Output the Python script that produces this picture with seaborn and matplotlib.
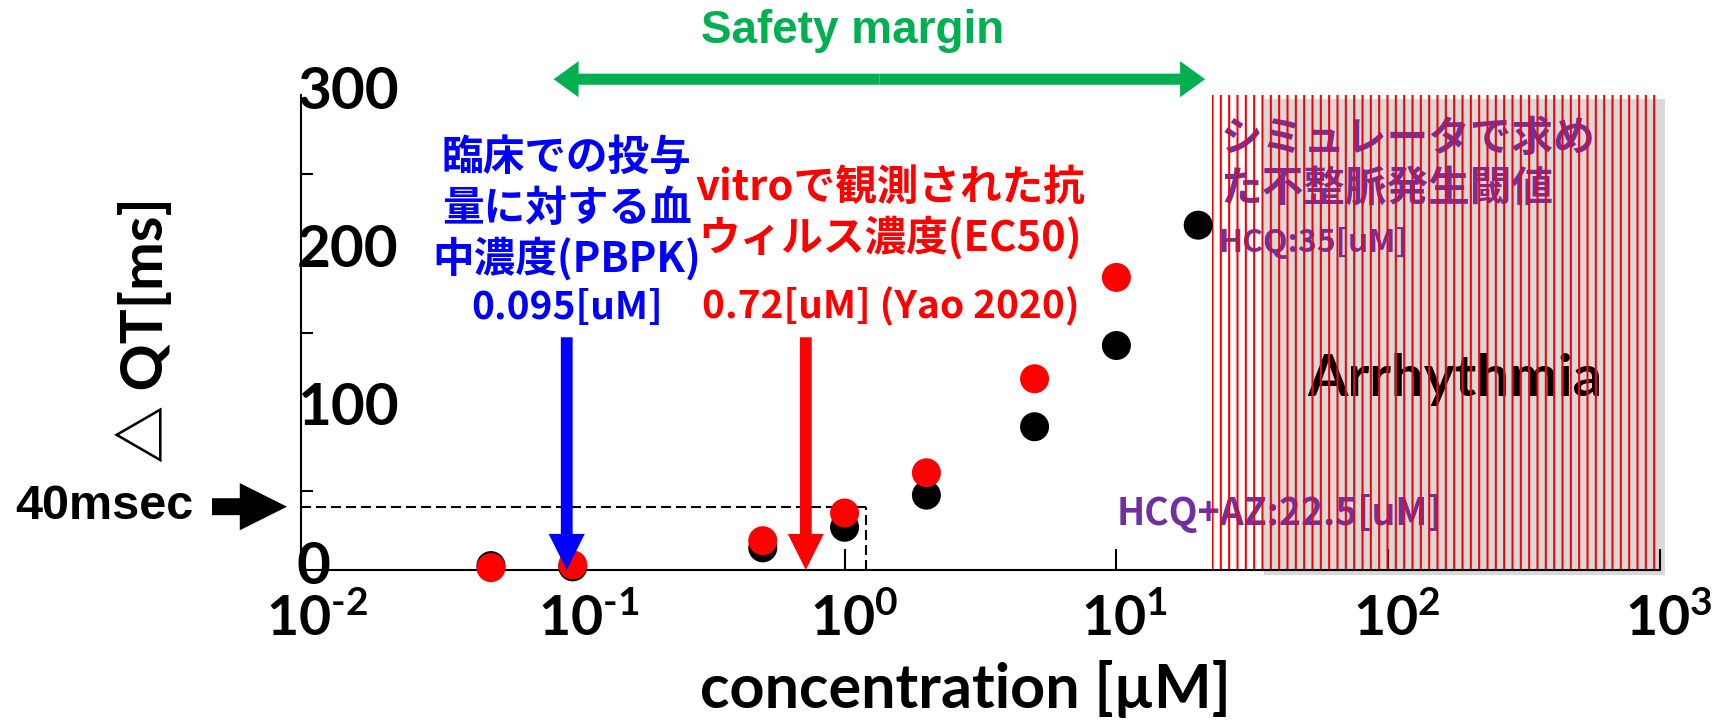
import matplotlib
matplotlib.use("Agg")
import matplotlib.pyplot as plt
import matplotlib.transforms as mtransforms
from matplotlib.ticker import FixedLocator, NullLocator
import pandas as pd
import seaborn as sns

# ---------------- data ----------------
conc_black = [0.05, 0.1, 0.5, 1, 2, 5, 10, 20]
dqt_black = [2.8, 2.0, 14.0, 27.0, 47.3, 90.5, 141.8, 217.8]
conc_red = [0.05, 0.1, 0.5, 1, 2, 5, 10]
dqt_red = [1.5, 3.2, 18.5, 36.0, 61.4, 120.8, 184.8]

x_ticks = [0.01, 0.1, 1, 10, 100, 1000]
x_tick_labels = [r"$10^{\text{-}2}$", r"$10^{\text{-}1}$", r"$10^{0}$",
                 r"$10^{1}$", r"$10^{2}$", r"$10^{3}$"]
y_ticks = [0, 100, 200, 300]
y_tick_labels = ["0", "100", "200", "300"]
y_minor = [50, 150, 250]

pbpk_conc = 0.095      # clinical blood concentration
ec50_conc = 0.72       # in vitro EC50
hcq_az_thr = 22.5      # arrhythmia threshold HCQ+AZ
hcq_thr = 35           # arrhythmia threshold HCQ
qt_limit = 40          # 40 msec
qt_box_conc = 1.2      # dashed box right edge

blue_lines = ["臨床での投与", "量に対する血", "中濃度(PBPK)", "0.095[uM]"]
red_lines = ["vitroで観測された抗", "ウィルス濃度(EC50)", "0.72[uM] (Yao 2020)"]
purple_lines = ["シミュレータで求め", "た不整脈発生閾値"]
hcq_label = "HCQ:35[uM]"
hcq_az_label = "HCQ+AZ:22.5[uM]"

# ---------------- style ----------------
sns.set_theme(style="white")
plt.rcParams["font.family"] = ["Lato", "Noto Sans CJK JP", "DejaVu Sans"]
plt.rcParams["font.weight"] = "bold"
plt.rcParams["text.color"] = "black"
plt.rcParams["axes.labelcolor"] = "black"
plt.rcParams["xtick.color"] = "black"
plt.rcParams["ytick.color"] = "black"
plt.rcParams["xtick.labelcolor"] = "black"
plt.rcParams["ytick.labelcolor"] = "black"
plt.rcParams["mathtext.fontset"] = "custom"
plt.rcParams["mathtext.rm"] = "Lato:bold"
plt.rcParams["mathtext.it"] = "Lato:bold"
plt.rcParams["mathtext.bf"] = "Lato:bold"
plt.rcParams["mathtext.default"] = "rm"
plt.rcParams["hatch.linewidth"] = 1.5
plt.rcParams["hatch.color"] = "red"

CJK = ["Noto Sans CJK JP", "DejaVu Sans"]
BLUE = "#0000FF"
RED = "#FF0000"
PURPLE = "#7030A0"
GREEN = "#00B050"

fig = plt.figure(figsize=(17.14, 7.21), dpi=100)
ax = fig.add_axes([0.1756, 0.2094, 0.7929, 0.6588])

df = pd.DataFrame({
    "conc": conc_black + conc_red,
    "dqt": dqt_black + dqt_red,
    "series": ["black"] * len(conc_black) + ["red"] * len(conc_red),
})
sns.scatterplot(data=df, x="conc", y="dqt", hue="series",
                palette={"black": "black", "red": RED},
                s=436, linewidth=0, legend=False, zorder=3, clip_on=False, ax=ax)

ax.set_xscale("log")
ax.set_xlim(0.01, 1000)
ax.set_ylim(0, 300)

# arrhythmia region: gray shadow + red vertical hatch
ax.axvspan(hcq_thr, 1043, ymin=-0.01, ymax=0.992, facecolor="#D9D9D9",
           edgecolor="none", lw=0, zorder=0.5, clip_on=False)
ax.axvspan(hcq_az_thr, 1000, ymin=0, ymax=1, facecolor="none",
           edgecolor=RED, hatch="||", lw=0, zorder=2)

# dashed 40 ms box
ax.plot([0.01, qt_box_conc], [qt_limit, qt_limit], color="black", lw=1.5,
        ls=(0, (4.8, 2.4)), zorder=2.5)
ax.plot([qt_box_conc, qt_box_conc], [0, qt_limit], color="black", lw=1.5,
        ls=(0, (4.8, 2.4)), zorder=2.5)

# spines & ticks
for s in ["top", "right"]:
    ax.spines[s].set_visible(False)
for s in ["left", "bottom"]:
    ax.spines[s].set_linewidth(1.5)
    ax.spines[s].set_color("black")
    ax.spines[s].set_zorder(2.5)

ax.xaxis.set_major_locator(FixedLocator(x_ticks))
ax.set_xticklabels(x_tick_labels)
ax.xaxis.set_minor_locator(NullLocator())
ax.tick_params(axis="x", which="major", direction="in", length=15, width=1.5,
               pad=16, labelsize=40, color="black", labelcolor="black", bottom=True)

ax.yaxis.set_major_locator(FixedLocator(y_ticks))
ax.set_yticklabels(y_tick_labels)
ax.yaxis.set_minor_locator(FixedLocator(y_minor))
ax.tick_params(axis="y", which="major", direction="in", length=0, pad=3,
               labelsize=42, left=True, labelcolor="black")
ax.tick_params(axis="y", which="minor", direction="in", length=8.6, width=1.5,
               left=True, color="black")

shift_x = mtransforms.ScaledTranslation(-35 / 100, 0, fig.dpi_scale_trans)
shift_y = mtransforms.ScaledTranslation(0, 8 / 100, fig.dpi_scale_trans)
for t in ax.get_xticklabels():
    t.set_fontweight("bold")
    t.set_ha("left")
    t.set_transform(t.get_transform() + shift_x)
for t in ax.get_yticklabels():
    t.set_ha("left")
    t.set_fontweight("bold")
    t.set_transform(t.get_transform() + shift_y)

ax.set_xlabel("concentration [µM]", fontsize=44, fontweight="bold")
ax.xaxis.set_label_coords(0.489, -0.19)
ax.set_ylabel("△ QT[ms]", fontsize=42, fontweight="bold", va="center")
ax.yaxis.set_label_coords(-0.1148, 0.505)

# blue: clinical concentration
blue_y = [260.5, 228.2, 196.8, 165.8]
blue_size = [30, 30, 30, 28]
for line, yy, fs in zip(blue_lines, blue_y, blue_size):
    ax.text(pbpk_conc, yy, line, color=BLUE, fontsize=fs, fontweight="bold",
            family=CJK, ha="center", va="center", zorder=5)
ax.annotate("", xy=(pbpk_conc, 0), xytext=(pbpk_conc, 147),
            arrowprops=dict(arrowstyle="simple,head_length=2.6,head_width=2.6,tail_width=0.85",
                            color=BLUE, lw=0, shrinkA=0, shrinkB=0, mutation_scale=10),
            zorder=5, annotation_clip=False)

# red: in vitro EC50
red_y = [241.2, 209.6, 166.7]
red_size = [30, 30, 28]
for line, yy, fs in zip(red_lines, red_y, red_size):
    ax.text(1.476, yy, line, color=RED, fontsize=fs, fontweight="bold",
            family=CJK, ha="center", va="center", zorder=5)
ax.annotate("", xy=(ec50_conc, 0), xytext=(ec50_conc, 147),
            arrowprops=dict(arrowstyle="simple,head_length=2.6,head_width=2.6,tail_width=0.85",
                            color=RED, lw=0, shrinkA=0, shrinkB=0, mutation_scale=10),
            zorder=5, annotation_clip=False)

# purple: simulator thresholds (under the hatch)
purple_y = [272.0, 241.0]
for line, yy in zip(purple_lines, purple_y):
    ax.text(24.1, yy, line, color=PURPLE, fontsize=30, fontweight="bold",
            family=CJK, ha="left", va="center", zorder=1)
ax.text(23.7, 206.4, hcq_label, color=PURPLE, fontsize=23, fontweight="bold",
        family=CJK, ha="left", va="center", zorder=1)
ax.text(10.0, 35.4, hcq_az_label, color=PURPLE, fontsize=27, fontweight="bold",
        family=CJK, ha="left", va="center", zorder=1)
ax.text(176, 120.6, "Arrhythmia", color="black", fontsize=42, fontweight="bold",
        ha="center", va="center", zorder=1)

# safety margin
ax.text(1.07, 340.3, "Safety margin", color=GREEN, fontsize=33, fontweight="bold",
        family=["Liberation Sans"], ha="center", va="center")
mid = (0.085 * 21.2) ** 0.5
for end in (0.085, 21.2):
    ax.annotate("", xy=(end, 310), xytext=(mid, 310),
                arrowprops=dict(arrowstyle="simple,head_length=1.8,head_width=2.6,tail_width=0.8",
                                color=GREEN, lw=0, shrinkA=0, shrinkB=0, mutation_scale=10),
                annotation_clip=False)

# 40 msec marker
blend = mtransforms.blended_transform_factory(fig.transFigure, ax.transData)
ax.text(15 / 1714, qt_limit, "40msec", transform=blend, color="black", fontsize=35,
        fontweight="bold", family=["Liberation Sans"], ha="left", va="center")
ax.annotate("", xy=(287 / 1714, qt_limit), xycoords=blend,
            xytext=(212 / 1714, qt_limit), textcoords=blend,
            arrowprops=dict(arrowstyle="simple,head_length=3.4,head_width=3.4,tail_width=1.22",
                            color="black", lw=0, shrinkA=0, shrinkB=0, mutation_scale=10),
            annotation_clip=False)

fig.savefig("out.png", dpi=100)
